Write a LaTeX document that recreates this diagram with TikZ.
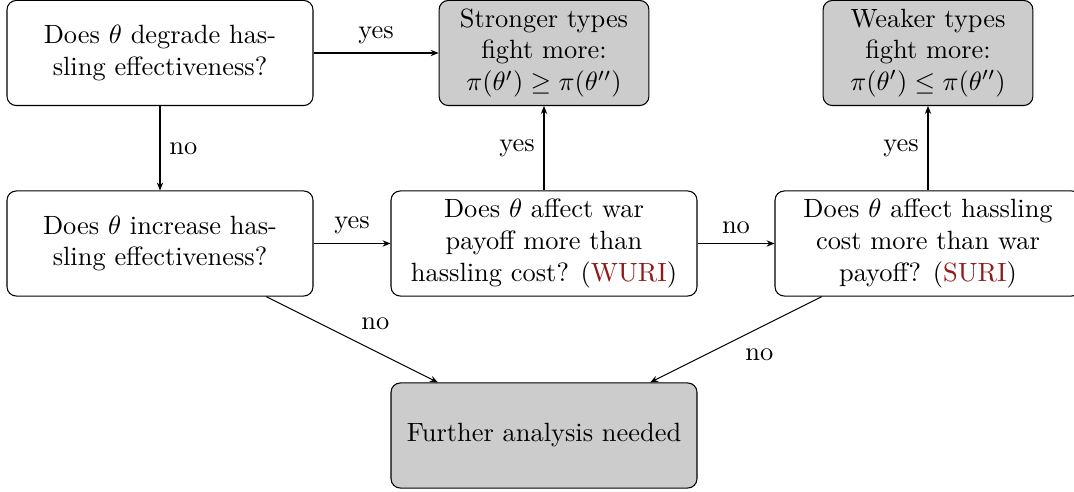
\documentclass[tikz,border=0pt]{standalone}
\usetikzlibrary{arrows.meta}
\definecolor{urired}{RGB}{145,25,25}
\tikzset{
  qbox/.style={draw, rounded corners=3.5pt, align=center, minimum width=115.9pt,
    minimum height=39.8pt, inner sep=2pt, fill=white},
  abox/.style={draw, rounded corners=3.5pt, align=center, minimum width=79.5pt,
    minimum height=39.8pt, inner sep=2pt, fill=black!20},
  conn/.style={-{Stealth[length=3pt,width=2.4pt]}, line width=0.4pt}
}
\begin{document}
\begin{tikzpicture}[x=0.3788pt,y=-0.3788pt]
\useasboundingbox (0,0) rectangle (1074,492);
\node[qbox] (A) at (160,53) {Does $\theta$ degrade has-\\sling effectiveness?};
\node[abox] (B) at (544,53) {Stronger types\\fight more:\\$\pi(\theta')\geq\pi(\theta'')$};
\node[abox] (C) at (928,53) {Weaker types\\fight more:\\$\pi(\theta')\leq\pi(\theta'')$};
\node[qbox] (D) at (160,243.5) {Does $\theta$ increase has-\\sling effectiveness?};
\node[qbox] (E) at (544,243.5) {Does $\theta$ affect war\\payoff more than\\hassling cost? (\textcolor{urired}{WURI})};
\node[qbox] (F) at (928,243.5) {Does $\theta$ affect hassling\\cost more than war\\payoff? (\textcolor{urired}{SURI})};
\node[abox, minimum width=115.9pt] (G) at (544,435.5) {Further analysis needed};
\draw[conn] (A) -- node[above]{yes} (B);
\draw[conn] (A) -- node[right]{no} (D);
\draw[conn] (D) -- node[above]{yes} (E);
\draw[conn] (E) -- node[left]{yes} (B);
\draw[conn] (E) -- node[above]{no} (F);
\draw[conn] (F) -- node[left]{yes} (C);
\draw[conn] (D) -- node[above right]{no} (G);
\draw[conn] (F) -- node[below right]{no} (G);
\end{tikzpicture}
\end{document}
